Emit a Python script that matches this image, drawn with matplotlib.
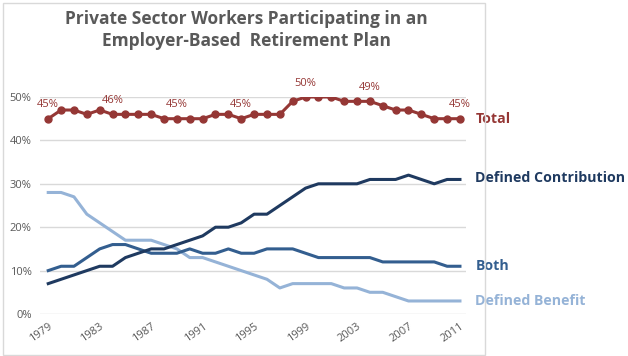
import matplotlib.pyplot as plt
from matplotlib.patches import Rectangle

# Dados ########################################################################

anos = list(range(1979, 2012))
total = [45, 47, 47, 46, 47, 46, 46, 46, 46, 45, 45, 45, 45, 46, 46, 45, 46,
         46, 46, 49, 50, 50, 50, 49, 49, 49, 48, 47, 47, 46, 45, 45, 45]
contrib = [7, 8, 9, 10, 11, 11, 13, 14, 15, 15, 16, 17, 18, 20, 20, 21, 23,
           23, 25, 27, 29, 30, 30, 30, 30, 31, 31, 31, 32, 31, 30, 31, 31]
ambos = [10, 11, 11, 13, 15, 16, 16, 15, 14, 14, 14, 15, 14, 14, 15, 14, 14,
         15, 15, 15, 14, 13, 13, 13, 13, 13, 12, 12, 12, 12, 12, 11, 11]
beneficio = [28, 28, 27, 23, 21, 19, 17, 17, 17, 16, 15, 13, 13, 12, 11, 10, 9,
             8, 6, 7, 7, 7, 7, 6, 6, 5, 5, 4, 3, 3, 3, 3, 3]
anos_rotulo = [1979, 1984, 1989, 1994, 1999, 2004, 2011]
ticks_x = list(range(1979, 2012, 4))
ticks_y = [0, 10, 20, 30, 40, 50]

# Cores ########################################################################

vermelho = "#953735"
azul_escuro = "#1F3A60"
azul_medio = "#335E8F"
azul_claro = "#95B3D7"
cinza = "#595959"

plt.rcParams['font.family'] = ['Open Sans', 'DejaVu Sans']

fig = plt.figure(figsize=(6.28, 3.56), dpi=100)
ax = fig.add_axes([40 / 628, 42 / 356, 426 / 628, 217 / 356])

# borda do grafico
fig.patches.append(Rectangle((3 / 628, 1 / 356), 482 / 628, 352 / 356,
                             transform=fig.transFigure, fill=False,
                             edgecolor="#D9D9D9", linewidth=1))

ax.plot(anos, beneficio, color=azul_claro, linewidth=2.2, solid_joinstyle="round")
ax.plot(anos, ambos, color=azul_medio, linewidth=2.2, solid_joinstyle="round")
ax.plot(anos, contrib, color=azul_escuro, linewidth=2.2, solid_joinstyle="round")
ax.plot(anos, total, color=vermelho, linewidth=2.2, marker="o", markersize=5,
        solid_joinstyle="round")

for a in anos_rotulo:
    v = total[anos.index(a)]
    ax.annotate(f"{v}%", (a, v), xytext=(0, 6), textcoords="offset points",
                ha="center", va="bottom", color=vermelho, fontsize=8,
                annotation_clip=False)

ax.set_xlim(1978.36, 2011.47)
ax.set_ylim(0, 50)
ax.set_xticks(ticks_x)
ax.set_xticklabels([str(t) for t in ticks_x], rotation=35, ha="right",
                   rotation_mode="anchor", color=cinza, fontsize=8)
ax.set_yticks(ticks_y)
ax.set_yticklabels([f"{t}%" for t in ticks_y], color=cinza, fontsize=8)
ax.tick_params(axis="y", length=0, pad=6)
ax.tick_params(axis="x", length=0, pad=5)
ax.grid(axis="y", color="#D9D9D9", linewidth=1)
ax.set_axisbelow(True)
for s in ax.spines.values():
    s.set_visible(False)

# rotulos das series
caixa = dict(facecolor="white", edgecolor="none", pad=1)
x_rot = 2012.2
ax.text(x_rot, 45, "Total", color=vermelho, fontsize=10.2, fontweight="bold",
        va="center", ha="left", bbox=caixa, clip_on=False)
ax.text(x_rot, 31.3, "Defined Contribution", color=azul_escuro, fontsize=10.2,
        fontweight="bold", va="center", ha="left", bbox=caixa, clip_on=False)
ax.text(x_rot, 11, "Both", color=azul_medio, fontsize=10.2, fontweight="bold",
        va="center", ha="left", bbox=caixa, clip_on=False)
ax.text(x_rot, 3, "Defined Benefit", color=azul_claro, fontsize=10.2,
        fontweight="bold", va="center", ha="left", bbox=caixa, clip_on=False)

fig.text(246 / 628, 1 - 30 / 356,
         "Private Sector Workers Participating in an\nEmployer-Based  Retirement Plan",
         ha="center", va="center", color=cinza, fontsize=12.5, fontweight="bold",
         linespacing=1.25)

fig.savefig("out.png", dpi=100)
